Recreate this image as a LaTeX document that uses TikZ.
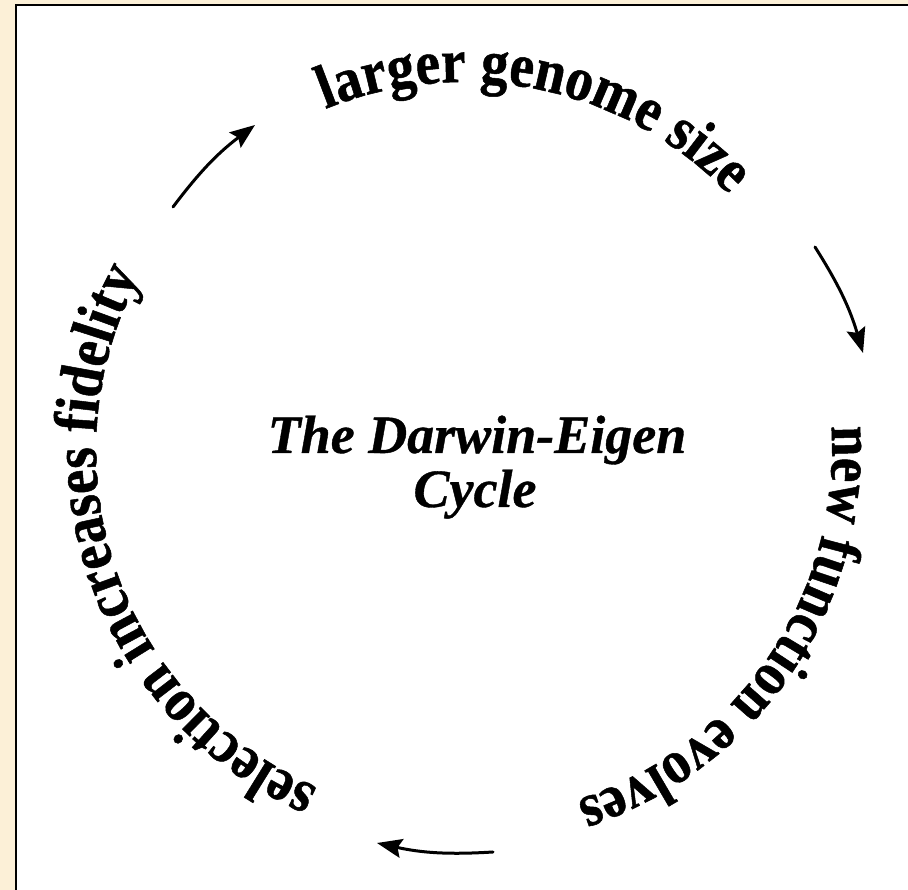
\documentclass[tikz,border=0pt]{standalone}
\usepackage{fontspec}
\newfontfamily\circfont[FakeStretch=0.89, FakeBold=0.8]{Liberation Serif Bold}
\newfontfamily\titlefont[FakeBold=0.7]{Liberation Serif Bold Italic}
\usetikzlibrary{decorations.text,arrows.meta,calc}
\definecolor{parch}{RGB}{252,240,215}
\tikzset{
  arr/.style={line width=3pt, line cap=round, -{Stealth[length=25pt,width=19pt,inset=4pt]}},
  ringtext/.style={decorate, decoration={text along path, text align=center, text={#1}}},
  titletext/.style={font=\titlefont\fontsize{54}{54}\selectfont, inner sep=0pt}
}
\begin{document}
\begin{tikzpicture}[x=1pt,y=1pt]
\useasboundingbox (0,0) rectangle (908,890);
\clip (0,0) rectangle (908,890);
\fill[parch] (0,0) rectangle (908,890);
\draw[line width=2pt, fill=white] (16,885) rectangle (940,-40);
\coordinate (C) at (464,440);
\def\R{368}
% ring texts
\path[ringtext={|\circfont\fontsize{62}{70}\selectfont|larger genome size}]
  ($(C)+(138:\R)$) arc[start angle=138, end angle=18, radius=\R];
\path[ringtext={|\circfont\fontsize{62}{70}\selectfont|new function evolves}]
  ($(C)+(25.75:\R)$) arc[start angle=25.75, end angle=-94.25, radius=\R];
\path[ringtext={|\circfont\fontsize{62}{70}\selectfont|selection increases fidelity}]
  ($(C)+(269.1:\R)$) arc[start angle=269.1, end angle=129.1, radius=\R];
% title
\node[titletext, anchor=base] (title1) at (477,437) {The Darwin-Eigen};
\node[titletext, anchor=base] (title2) at (475,383) {Cycle};
% arrows
\coordinate (a1s) at (173,683);
\coordinate (a1e) at (255,765);
\coordinate (a2s) at (815,643);
\coordinate (a2e) at (863,537);
\coordinate (a3s) at (493,38);
\coordinate (a3e) at (377,47);
\draw[arr] (a1s) to[bend left=8] (a1e);
\draw[arr] (a2s) to[bend left=8] (a2e);
\draw[arr] (a3s) to[bend left=8] (a3e);
\end{tikzpicture}
\end{document}
